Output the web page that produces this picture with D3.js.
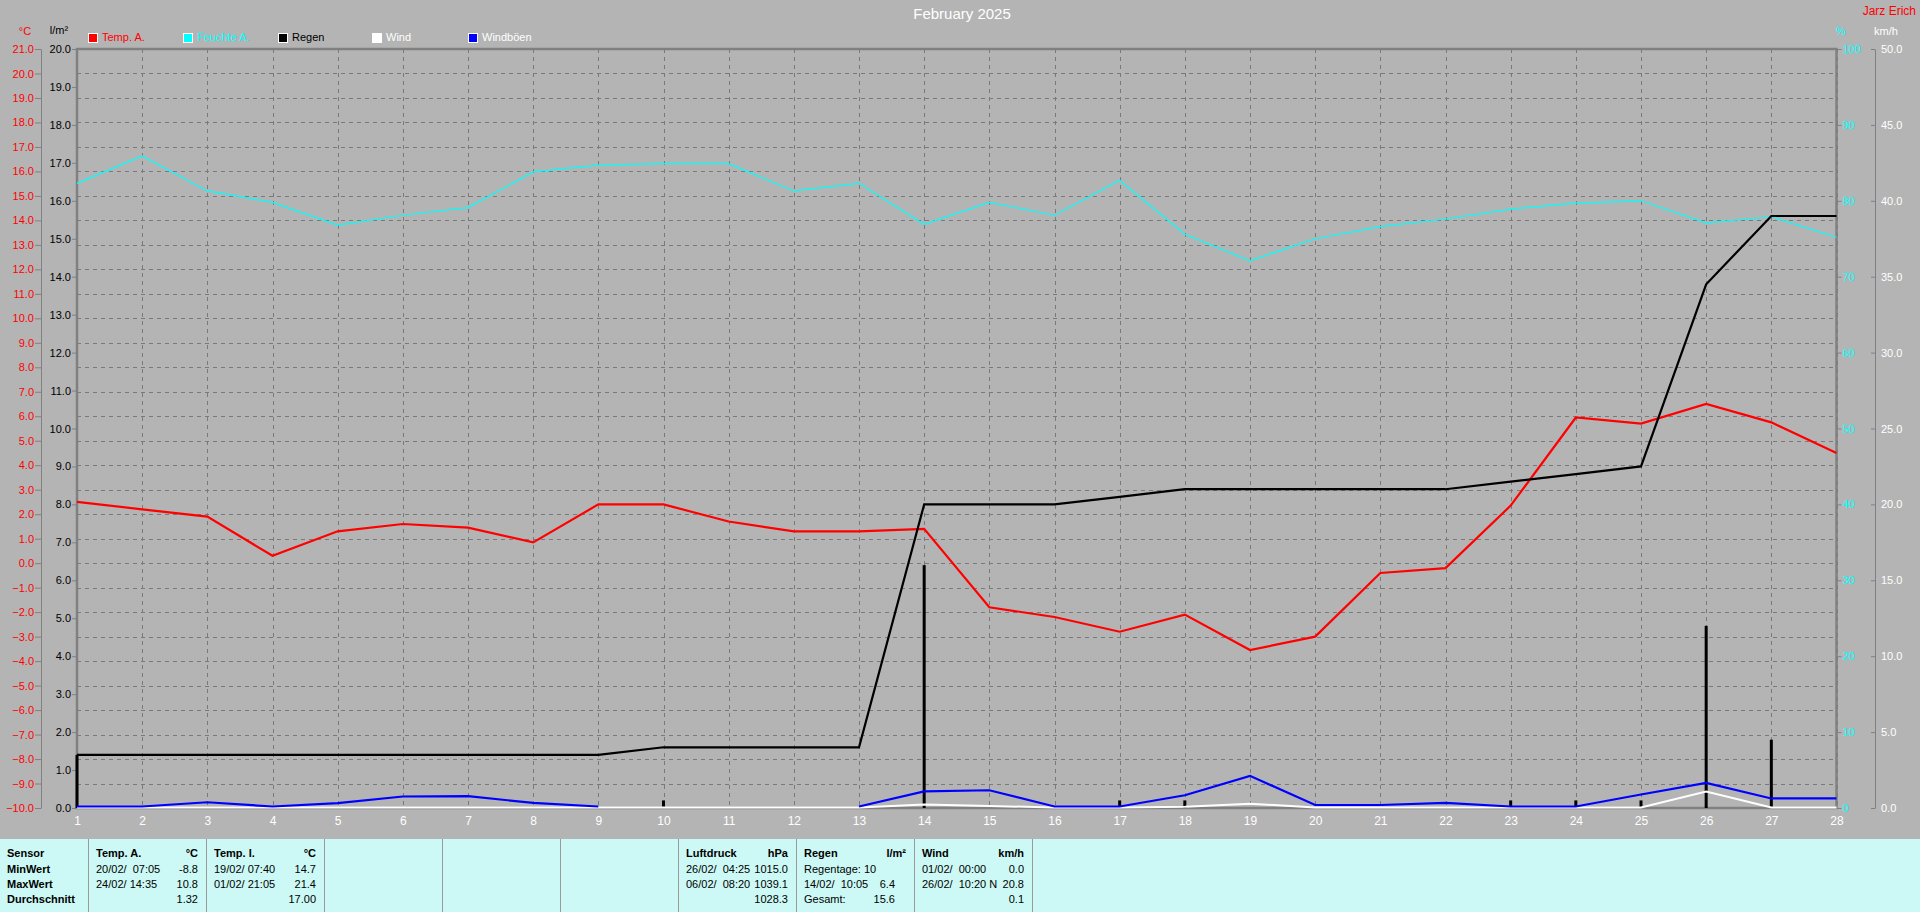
<!DOCTYPE html>
<html><head><meta charset="utf-8">
<script src="https://cdn.jsdelivr.net/npm/d3@7"></script>
<style>
html,body{margin:0;padding:0;background:#b4b4b4;overflow:hidden;}
svg{display:block;font-family:"Liberation Sans",Arial,sans-serif;}
</style></head>
<body>
<svg id="c" width="1920" height="912"></svg>
<script>
// ---------- data ----------
const days = [1,2,3,4,5,6,7,8,9,10,11,12,13,14,15,16,17,18,19,20,21,22,23,24,25,26,27,28];
const tempA = [2.5,2.2,1.9,0.3,1.3,1.6,1.45,0.85,2.4,2.4,1.7,1.3,1.3,1.4,-1.8,-2.2,-2.8,-2.1,-3.55,-3.0,-0.4,-0.2,2.35,5.95,5.7,6.5,5.75,4.5];
const humidity = [82.3,85.9,81.3,79.8,76.8,78.1,79.1,83.8,84.7,84.9,84.9,81.3,82.3,76.9,79.8,78.1,82.7,75.6,72.1,75.0,76.6,77.6,78.9,79.7,80.0,77.1,77.9,75.2];
const rainDaily = [1.4,0,0,0,0,0,0,0,0,0.2,0,0,0,6.4,0,0,0.2,0.2,0,0,0,0,0.2,0.2,0.2,4.8,1.8,0];
const rainCum = [1.4,1.4,1.4,1.4,1.4,1.4,1.4,1.4,1.4,1.6,1.6,1.6,1.6,8.0,8.0,8.0,8.2,8.4,8.4,8.4,8.4,8.4,8.6,8.8,9.0,13.8,15.6,15.6];
const wind = [0,0,0,0,0,0,0,0,0,0,0,0,0,0.2,0.1,0,0,0.05,0.25,0,0,0,0,0,0,1.05,0,0];
const gusts = [0,0,0.28,0,0.22,0.66,0.68,0.24,0,null,null,null,0,1.0,1.07,0,0,0.74,2.02,0.1,0.1,0.24,0,0,0.79,1.56,0.53,0.53];
const tempTicks = d3.range(-10,22,1);
const rainTicks = d3.range(0,21,1);
const humTicks = [0,10,20,30,40,50,60,70,80,90,100];
const windTicks = [0,5,10,15,20,25,30,35,40,45,50];
const legendItems = [
  {name:"Temp. A.", color:"#ff0000", text:"#ff0000"},
  {name:"Feuchte A.", color:"#00ffff", text:"#00ffff"},
  {name:"Regen", color:"#000000", text:"#000000"},
  {name:"Wind", color:"#ffffff", text:"#ffffff"},
  {name:"Windböen", color:"#0000ff", text:"#ffffff"}
];
const title = "February 2025";
const author = "Jarz Erich";
// summary panel
const panelCols = [
  {head:"Sensor", unit:"", rows:[["MinWert",""],["MaxWert",""],["Durchschnitt",""]], bold:true},
  {head:"Temp. A.", unit:"°C", rows:[["20/02/  07:05","-8.8"],["24/02/ 14:35","10.8"],["","1.32"]]},
  {head:"Temp. I.", unit:"°C", rows:[["19/02/ 07:40","14.7"],["01/02/ 21:05","21.4"],["","17.00"]]},
  {head:"", unit:"", rows:[["",""],["",""],["",""]]},
  {head:"", unit:"", rows:[["",""],["",""],["",""]]},
  {head:"", unit:"", rows:[["",""],["",""],["",""]]},
  {head:"Luftdruck", unit:"hPa", rows:[["26/02/  04:25","1015.0"],["06/02/  08:20","1039.1"],["","1028.3"]]},
  {head:"Regen", unit:"l/m²", rows:[["Regentage: 10",""],["14/02/  10:05","6.4"],["Gesamt:","15.6"]], valShift:-11},
  {head:"Wind", unit:"km/h", rows:[["01/02/  00:00","0.0"],["26/02/  10:20 N","20.8"],["","0.1"]]}
];

// ---------- layout ----------
const L = 77, R = 1836.5, T = 49, B = 808;
const svg = d3.select("#c");
const x = d3.scaleLinear().domain([1,28]).range([L,R]);
const yT = d3.scaleLinear().domain([-10,21]).range([B,T]);
const yR = d3.scaleLinear().domain([0,20]).range([B,T]);
const yH = d3.scaleLinear().domain([0,100]).range([B,T]);
const yW = d3.scaleLinear().domain([0,50]).range([B,T]);
const F = '"Liberation Sans",Arial,sans-serif';

svg.append("rect").attr("width",1920).attr("height",912).attr("fill","#b4b4b4");

// grid
const grid = svg.append("g").attr("stroke","#7a7a7a").attr("stroke-width",1).attr("stroke-dasharray","4,4").attr("shape-rendering","crispEdges");
grid.selectAll(".h").data(tempTicks).join("line")
  .attr("x1",L).attr("x2",R).attr("y1",d=>Math.round(yT(d))+0.5).attr("y2",d=>Math.round(yT(d))+0.5);
grid.selectAll(".v").data(days).join("line")
  .attr("y1",T).attr("y2",B).attr("x1",d=>Math.round(x(d))+0.5).attr("x2",d=>Math.round(x(d))+0.5);

// plot border
svg.append("rect").attr("x",L).attr("y",T).attr("width",R-L).attr("height",B-T)
  .attr("fill","none").attr("stroke","#808080").attr("stroke-width",2.5);

function styleAxis(g, color){
  g.attr("font-family",F).attr("font-size",11);
  g.selectAll("text").attr("fill",color);
  g.selectAll("line").attr("stroke","#808080");
  g.selectAll("path").attr("stroke","#808080");
}
// temp axis (left, red)
svg.append("g").attr("transform","translate(41,0)")
  .call(d3.axisLeft(yT).tickValues(tempTicks).tickFormat(d3.format(".1f")).tickSize(6).tickSizeOuter(0).tickPadding(1))
  .call(g=>styleAxis(g,"#ff0000"));
// rain axis
svg.append("g").attr("transform",`translate(${L},0)`)
  .call(d3.axisLeft(yR).tickValues(rainTicks).tickFormat(d3.format(".1f")).tickSize(5).tickSizeOuter(0).tickPadding(1))
  .call(g=>{styleAxis(g,"#000000"); g.select("path").remove();});
// humidity axis
svg.append("g").attr("transform",`translate(${R},0)`)
  .call(d3.axisRight(yH).tickValues(humTicks).tickFormat(d3.format("d")).tickSize(5).tickSizeOuter(0).tickPadding(1))
  .call(g=>{styleAxis(g,"#00ffff"); g.select("path").remove();});
// wind axis
svg.append("g").attr("transform","translate(1875,0)")
  .call(d3.axisRight(yW).tickValues(windTicks).tickFormat(d3.format(".1f")).tickSizeInner(-4).tickSizeOuter(0).tickPadding(6))
  .call(g=>styleAxis(g,"#ffffff"));
// x axis labels
svg.append("g").attr("transform",`translate(0,${B})`)
  .call(d3.axisBottom(x).tickValues(days).tickFormat(d3.format("d")).tickSize(0).tickPadding(8))
  .call(g=>{styleAxis(g,"#ffffff"); g.select("path").remove(); g.attr("font-size",12);});

// unit labels
svg.append("text").attr("x",25).attr("y",32).attr("text-anchor","middle").attr("dominant-baseline","middle")
  .attr("fill","#ff0000").attr("font-size",11).text("°C");
svg.append("text").attr("x",59).attr("y",31).attr("text-anchor","middle").attr("dominant-baseline","middle")
  .attr("fill","#000000").attr("font-size",11).text("l/m²");
svg.append("text").attr("x",1841).attr("y",32).attr("text-anchor","middle").attr("dominant-baseline","middle")
  .attr("fill","#00ffff").attr("font-size",11).text("%");
svg.append("text").attr("x",1874).attr("y",32).attr("dominant-baseline","middle")
  .attr("fill","#ffffff").attr("font-size",11).text("km/h");
svg.append("text").attr("x",1916).attr("y",12).attr("text-anchor","end").attr("dominant-baseline","middle")
  .attr("fill","#ff0000").attr("font-size",12).text(author);
svg.append("text").attr("x",962).attr("y",15).attr("text-anchor","middle").attr("dominant-baseline","middle")
  .attr("fill","#ffffff").attr("font-size",15).text(title);

// legend
const lx = [88,183,278,372,468];
const lg = svg.append("g");
legendItems.forEach((it,i)=>{
  lg.append("rect").attr("x",lx[i]+0.5).attr("y",33.5).attr("width",9).attr("height",9)
    .attr("fill",it.color).attr("stroke","#ffffff").attr("stroke-width",1);
  lg.append("text").attr("x",lx[i]+14).attr("y",38.5).attr("dominant-baseline","middle")
    .attr("font-size",11).attr("fill",it.text).text(it.name);
});

// data lines
const line = (ys, vals) => d3.line().defined(d=>vals[d-1]!=null).x(d=>x(d)).y(d=>ys(vals[d-1]));
svg.append("path").attr("d",line(yH,humidity)(days)).attr("fill","none").attr("stroke","#00ffff").attr("stroke-width",1.2);
svg.append("path").attr("d",line(yT,tempA)(days)).attr("fill","none").attr("stroke","#ff0000").attr("stroke-width",2.2);
// rain bars
svg.append("g").selectAll("rect").data(days.filter(d=>rainDaily[d-1]>0)).join("rect")
  .attr("x",d=>x(d)-1.5).attr("width",3).attr("y",d=>yR(rainDaily[d-1])).attr("height",d=>B-yR(rainDaily[d-1]))
  .attr("fill","#000000");
svg.append("path").attr("d",line(yR,rainCum)(days)).attr("fill","none").attr("stroke","#000000").attr("stroke-width",2.2);
svg.append("path").attr("d",line(yW,wind)(days)).attr("fill","none").attr("stroke","#ffffff").attr("stroke-width",2).attr("transform","translate(0,-0.5)");
svg.append("path").attr("d",line(yW,gusts)(days)).attr("fill","none").attr("stroke","#0000ff").attr("stroke-width",2.2).attr("transform","translate(0,-1.5)");

// summary panel
const PT = 839;
svg.append("rect").attr("x",0).attr("y",PT).attr("width",1920).attr("height",912-PT).attr("fill","#ccf9f5");
const colX = [0,88,206,324,442,560,678,796,914];
const rowY = [854,870,885,900];
const pg = svg.append("g").attr("font-size",11).attr("fill","#000");
colX.forEach((cx,i)=>{
  if(i>0) pg.append("line").attr("x1",cx+0.5).attr("x2",cx+0.5).attr("y1",PT).attr("y2",912).attr("stroke","#9a9a9a");
});
pg.append("line").attr("x1",1032.5).attr("x2",1032.5).attr("y1",PT).attr("y2",912).attr("stroke","#9a9a9a");
panelCols.forEach((c,i)=>{
  const x0 = colX[i] + (i===0?7:8);
  const xr = colX[i] + 110;
  pg.append("text").attr("x",x0).attr("y",rowY[0]).attr("dominant-baseline","middle").attr("font-weight","bold").text(c.head);
  if(c.unit) pg.append("text").attr("x",xr).attr("y",rowY[0]).attr("text-anchor","end").attr("dominant-baseline","middle").attr("font-weight","bold").text(c.unit);
  c.rows.forEach((r,j)=>{
    pg.append("text").attr("x",x0).attr("y",rowY[j+1]).attr("dominant-baseline","middle")
      .attr("font-weight",c.bold?"bold":"normal").attr("xml:space","preserve").style("white-space","pre").text(r[0]);
    if(r[1]) pg.append("text").attr("x",xr+(c.valShift||0)).attr("y",rowY[j+1]).attr("text-anchor","end").attr("dominant-baseline","middle").text(r[1]);
  });
});
</script>
</body></html>
